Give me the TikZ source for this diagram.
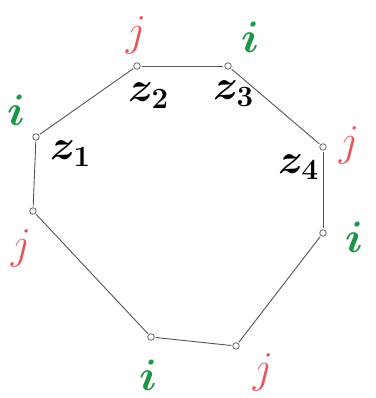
\RequirePackage{fix-cm}
\documentclass[tikz,border=0pt]{standalone}
\usepackage{amsmath}
\definecolor{lblred}{RGB}{232,84,92}
\definecolor{lblgreen}{RGB}{28,150,70}
\definecolor{edgegray}{RGB}{85,85,85}
\begin{document}
\begin{tikzpicture}[x=1pt,y=-1pt,
  vert/.style={circle,draw=edgegray!80,line width=0.9pt,inner sep=0pt,minimum size=6.5pt,fill=white},
  edge/.style={draw=edgegray,line width=0.9pt,shorten >=1pt,shorten <=1pt},
  ilab/.style={text=lblgreen,inner sep=0pt,anchor=base,font=\fontsize{44}{44}\selectfont\boldmath},
  jlab/.style={text=lblred,inner sep=0pt,anchor=center,font=\fontsize{44}{44}\selectfont},
  zlab/.style={text=black,inner sep=0pt,anchor=base west,font=\fontsize{42}{42}\selectfont\boldmath}]
\useasboundingbox (0,0) rectangle (375,398);
\node[vert] (v1) at (36,137) {};
\node[vert] (v2) at (137,66) {};
\node[vert] (v3) at (228,66) {};
\node[vert] (v4) at (323,147) {};
\node[vert] (v5) at (323,233) {};
\node[vert] (v6) at (236,346) {};
\node[vert] (v7) at (151,337) {};
\node[vert] (v8) at (33,211) {};
\draw[edge] (v1) -- (v2);
\draw[edge] (v2) -- (v3);
\draw[edge] (v3) -- (v4);
\draw[edge] (v4) -- (v5);
\draw[edge] (v5) -- (v6);
\draw[edge] (v6) -- (v7);
\draw[edge] (v7) -- (v8);
\draw[edge] (v8) -- (v1);
\node[ilab] (i1) at (16,126) {$i$};
\node[jlab] (j2) at (136,35) {$j$};
\node[ilab] (i3) at (250,53) {$i$};
\node[jlab] (j4) at (349,145) {$j$};
\node[ilab] (i5) at (354,252) {$i$};
\node[jlab] (j6) at (263,372) {$j$};
\node[ilab] (i7) at (148,390) {$i$};
\node[jlab] (j8) at (21,248) {$j$};
\node[zlab] (z1) at (50,160) {$z_1$};
\node[zlab] (z2) at (128,102) {$z_2$};
\node[zlab] (z3) at (213,100) {$z_3$};
\node[zlab] (z4) at (278,173) {$z_4$};
\end{tikzpicture}
\end{document}
